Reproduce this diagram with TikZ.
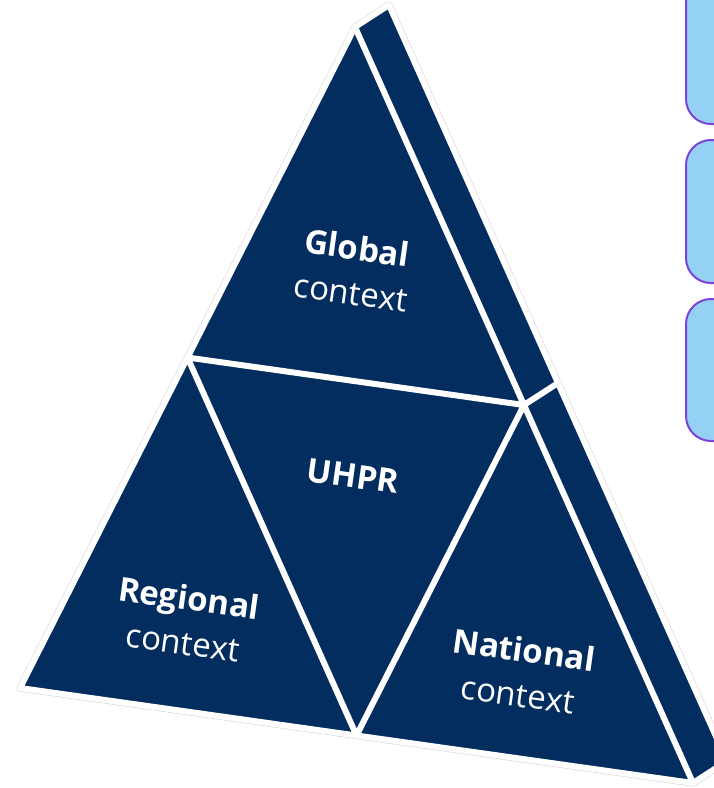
\documentclass[tikz,border=0pt]{standalone}
\usepackage{fontspec}
\setmainfont{Open Sans}
\definecolor{navy}{HTML}{022D5E}
\definecolor{boxfill}{HTML}{94D1F5}
\definecolor{boxline}{HTML}{7B42DC}
\tikzset{
  ctx/.style={text=white, align=center, rotate=-8, font=\fontsize{33}{45}\selectfont},
  gap/.style={white, line width=6pt},
  sidebox/.style={draw=boxline, fill=boxfill, line width=2pt, rounded corners=25pt,
    anchor=north west, minimum width=120pt, inner sep=0pt}
}
\begin{document}
\begin{tikzpicture}[x=1pt, y=-1pt, line join=round, line cap=round]
\useasboundingbox (0,0) rectangle (714,788);
\clip (0,0) rectangle (714,788);
% corners of the pyramid
\coordinate (A) at (355,27);
\coordinate (L) at (20,688);
\coordinate (R) at (693,783);
\coordinate (As) at (389,5);
\coordinate (Rs) at (727,761);
\coordinate (ML) at (187.5,357.5);
\coordinate (MR) at (524,405);
\coordinate (MB) at (356.5,735.5);
\coordinate (MRs) at (558,383);
% body
\draw[gray!35, line width=7pt] (L)--(A)--(As)--(Rs)--(R)--cycle;
\fill[navy] (L)--(A)--(As)--(Rs)--(R)--cycle;
\draw[gap] (L)--(A)--(As)--(Rs)--(R)--cycle;
\draw[gap] (A)--(R) (ML)--(MR)--(MB)--cycle (MR)--(MRs);
% labels
\node[ctx] (global) at (354,270) {\textbf{Global}\\context};
\node[ctx] (uhpr) at (353,476) {\textbf{UHPR}};
\node[ctx] (regional) at (186,620) {\textbf{Regional}\\context};
\node[ctx] (national) at (521,672) {\textbf{National}\\context};
% boxes on the right
\node[sidebox, minimum height=163pt] (box1) at (685,-40) {};
\node[sidebox, minimum height=143pt] (box2) at (685,139) {};
\node[sidebox, minimum height=142pt] (box3) at (685,298) {};
\end{tikzpicture}
\end{document}
